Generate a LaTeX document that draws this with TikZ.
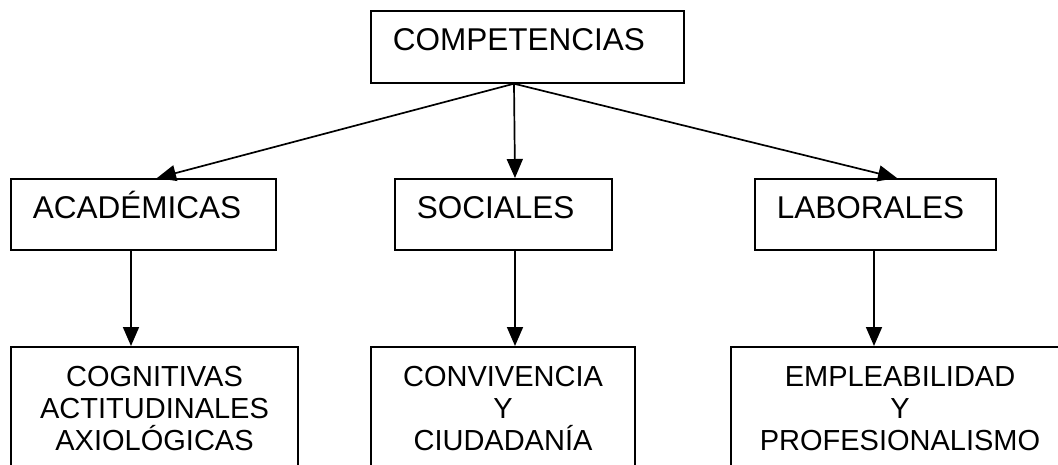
\documentclass[tikz,border=0pt]{standalone}
\usepackage{fontspec}
\setmainfont{Liberation Sans}
\usetikzlibrary{arrows.meta}

\tikzset{
  box/.style={draw, line width=1.7pt, inner ysep=0pt},
  headbox/.style={box, anchor=north west, inner xsep=22pt, align=left,
    font=\fontsize{31.5}{32}\selectfont, text height=40pt, text depth=31pt},
  itembox/.style={box, anchor=north, align=center, minimum height=124pt,
    font=\fontsize{29}{32}\selectfont},
  arr/.style={line width=1.7pt, -{Triangle[length=19pt,width=16pt]}}
}

\begin{document}
\begin{tikzpicture}[x=1pt,y=-1pt]
        \useasboundingbox (0,0) rectangle (1058,464);
        \clip (0,0) rectangle (1058,464);

        \node[headbox, text width=269pt, text depth=32pt] (comp) at (370,10) {COMPETENCIAS};

        \node[headbox, text width=221pt] (acad) at (10,178) {ACADÉMICAS};
        \node[headbox, text width=173pt] (soc) at (394,178) {SOCIALES};
        \node[headbox, text width=197pt] (lab) at (754,178) {LABORALES};

        \node[itembox, minimum width=287pt] (cogn) at (154.5,346) {COGNITIVAS\\ACTITUDINALES\\AXIOLÓGICAS};
        \node[itembox, minimum width=264pt] (conv) at (503,346) {CONVIVENCIA\\Y\\CIUDADANÍA};
        \node[itembox, minimum width=338pt] (empl) at (900,346) {EMPLEABILIDAD\\Y\\PROFESIONALISMO};

        \draw[arr] ([xshift=144pt]comp.south west) -- ([xshift=147pt]acad.north west);
        \draw[arr] ([xshift=144pt]comp.south west) -- ([xshift=121pt]soc.north west);
        \draw[arr] ([xshift=144pt]comp.south west) -- ([xshift=143pt]lab.north west);

        \draw[arr] ([xshift=121pt]acad.south west) -- ([xshift=121pt]acad.south west |- cogn.north);
        \draw[arr] ([xshift=121pt]soc.south west) -- ([xshift=121pt]soc.south west |- conv.north);
        \draw[arr] ([xshift=120pt]lab.south west) -- ([xshift=120pt]lab.south west |- empl.north);
\end{tikzpicture}
\end{document}
